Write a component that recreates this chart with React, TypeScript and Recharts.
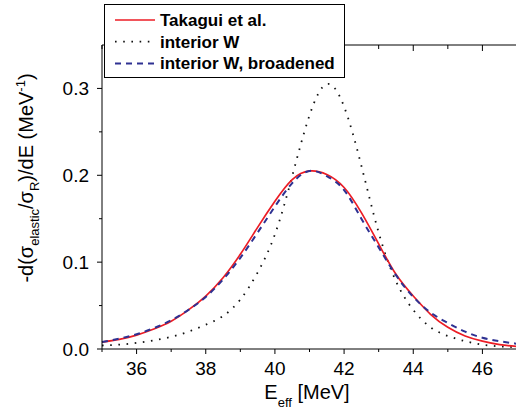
import React from "react";
import { LineChart, Line, XAxis, YAxis, Legend, Label } from "recharts";

// E_eff in MeV
const energy = [
  35, 35.5, 36, 36.5, 37, 37.5, 38, 38.5, 39, 39.5, 40, 40.5, 41, 41.5, 42, 42.5,
  43, 43.5, 44, 44.5, 45, 45.5, 46, 46.5, 47,
];
const takagui = [
  0.008, 0.011, 0.016, 0.023, 0.032, 0.045, 0.061, 0.082, 0.109, 0.14, 0.17, 0.195,
  0.205, 0.201, 0.186, 0.157, 0.121, 0.086, 0.061, 0.04, 0.025, 0.015, 0.009, 0.005, 0.003,
];
const interiorW = [
  0.004, 0.005, 0.007, 0.01, 0.014, 0.02, 0.028, 0.038, 0.057, 0.088, 0.132, 0.199,
  0.269, 0.305, 0.279, 0.211, 0.134, 0.078, 0.045, 0.025, 0.015, 0.009, 0.005, 0.003, 0.002,
];
const interiorWBroadened = [
  0.008, 0.012, 0.017, 0.024, 0.033, 0.045, 0.06, 0.08, 0.105, 0.134, 0.164, 0.191,
  0.205, 0.199, 0.183, 0.15, 0.117, 0.085, 0.06, 0.042, 0.03, 0.02, 0.013, 0.009, 0.006,
];

const xTicks = [35, 36, 37, 38, 39, 40, 41, 42, 43, 44, 45, 46, 47];
const yTicks = [0, 0.05, 0.1, 0.15, 0.2, 0.25, 0.3];

const series = [
  { key: "interior", name: "interior W", color: "#111111", dash: "1.6 6.6", width: 1.8 },
  { key: "takagui", name: "Takagui et al.", color: "#ec1c24", dash: undefined, width: 1.7 },
  { key: "broadened", name: "interior W, broadened", color: "#2e3192", dash: "6 5", width: 2 },
];
const legendOrder = ["takagui", "interior", "broadened"];

const data = energy.map((e, i) => ({
  e,
  takagui: takagui[i],
  interior: interiorW[i],
  broadened: interiorWBroadened[i],
}));

const FONT = "'Liberation Sans', Arial, sans-serif";

const isMajorY = (v: number) => Math.round(v * 100) % 10 === 0;

function BottomTick({ x, y, payload }: any) {
  const major = payload.value % 2 === 0;
  return (
    <g>
      <line x1={x} x2={x} y1={y} y2={y + (major ? 5 : 3)} stroke="#000" />
      {major && (
        <text x={x} y={y + 26} textAnchor="middle" fontSize={19} fontFamily={FONT} fill="#000">
          {payload.value}
        </text>
      )}
    </g>
  );
}

function TopTick({ x, y, payload }: any) {
  const major = payload.value % 2 === 0;
  return <line x1={x} x2={x} y1={y} y2={y + (major ? 6 : 4)} stroke="#000" />;
}

function LeftTick({ x, y, payload }: any) {
  const major = isMajorY(payload.value);
  return (
    <g>
      <line x1={x} x2={x - (major ? 5 : 3)} y1={y} y2={y} stroke="#000" />
      {major && (
        <text x={x - 13} y={y + 7} textAnchor="end" fontSize={19} fontFamily={FONT} fill="#000">
          {payload.value.toFixed(1)}
        </text>
      )}
    </g>
  );
}

function RightTick({ x, y, payload }: any) {
  const major = isMajorY(payload.value);
  return <line x1={x} x2={x - (major ? 5 : 3)} y1={y} y2={y} stroke="#000" />;
}

function LegendBox() {
  return (
    <svg width={242} height={75} style={{ display: "block" }}>
      <rect x={0.5} y={0.5} width={240} height={73} fill="#fff" stroke="#000" />
      {legendOrder.map((k, i) => {
        const s = series.find((d) => d.key === k)!;
        const cy = 16 + i * 21.7;
        return (
          <g key={k}>
            <line x1={11} x2={51} y1={cy} y2={cy} stroke={s.color} strokeWidth={s.width} strokeDasharray={s.dash} />
            <text x={56} y={cy + 6} fontSize={17} fontWeight="bold" fontFamily={FONT} fill="#000">
              {s.name}
            </text>
          </g>
        );
      })}
    </svg>
  );
}

export default function App() {
  return (
    <div style={{ position: "absolute", left: 0, top: 0, width: 516, height: 418, overflow: "hidden", background: "#fff" }}>
      <LineChart width={520} height={418} data={data} margin={{ top: 0, right: 0, bottom: 0, left: 0 }} style={{ fontFamily: FONT }}>
        <XAxis
          xAxisId="b"
          dataKey="e"
          type="number"
          domain={[35, 47]}
          ticks={xTicks}
          interval={0}
          height={69}
          tickSize={0}
          tickMargin={0}
          tickLine={false}
          stroke="#000"
          tick={(p: any) => <BottomTick {...p} />}
        >
          <Label
            content={() => (
              <text x={307} y={399} textAnchor="middle" fontSize={20} fontFamily={FONT} fill="#000">
                E<tspan fontSize={13} dy={8}>eff</tspan>
                <tspan dy={-8}> [MeV]</tspan>
              </text>
            )}
          />
        </XAxis>
        <XAxis
          xAxisId="t"
          orientation="top"
          dataKey="e"
          type="number"
          domain={[35, 47]}
          ticks={xTicks}
          interval={0}
          height={45}
          tickSize={0}
          tickMargin={0}
          tickLine={false}
          stroke="#000"
          tick={(p: any) => <TopTick {...p} />}
        />
        <YAxis
          yAxisId="l"
          type="number"
          domain={[0, 0.35]}
          ticks={yTicks}
          interval={0}
          width={102}
          tickSize={0}
          tickMargin={0}
          tickLine={false}
          stroke="#000"
          tick={(p: any) => <LeftTick {...p} />}
        >
          <Label
            content={() => (
              <text transform="rotate(-90)" x={-178} y={33} textAnchor="middle" fontSize={20} fontFamily={FONT} fill="#000">
                -d(σ<tspan fontSize={13} dy={6}>elastic</tspan>
                <tspan dy={-6}>/σ</tspan>
                <tspan fontSize={13} dy={6}>R</tspan>
                <tspan dy={-6}>)/dE (MeV</tspan>
                <tspan fontSize={13} dy={-8}>-1</tspan>
                <tspan dy={8}>)</tspan>
              </text>
            )}
          />
        </YAxis>
        <YAxis
          yAxisId="r"
          orientation="right"
          type="number"
          domain={[0, 0.35]}
          ticks={yTicks}
          interval={0}
          width={3}
          tickSize={0}
          tickMargin={0}
          tickLine={false}
          stroke="#000"
          tick={(p: any) => <RightTick {...p} />}
        />
        {series.map((s) => (
          <Line
            key={s.key}
            xAxisId="b"
            yAxisId="l"
            dataKey={s.key}
            name={s.name}
            type="natural"
            stroke={s.color}
            strokeWidth={s.width}
            strokeDasharray={s.dash}
            dot={false}
            activeDot={false}
            isAnimationActive={false}
          />
        ))}
        <Legend
          layout="horizontal"
          verticalAlign="middle"
          align="center"
          content={() => <LegendBox />}
          wrapperStyle={{ position: "absolute", left: 104, top: 4, width: 242, height: 75 }}
        />
      </LineChart>
    </div>
  );
}
